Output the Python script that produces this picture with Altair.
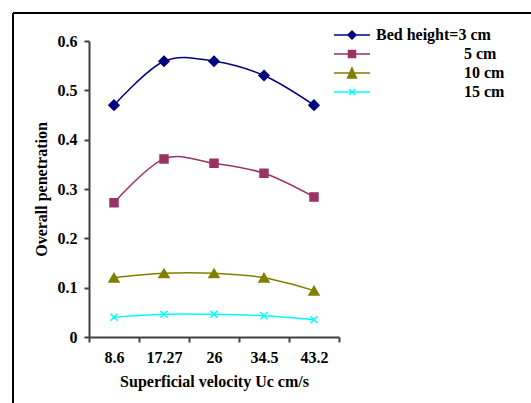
import altair as alt
import pandas as pd

velocity = ["8.6", "17.27", "26", "34.5", "43.2"]
series = ["3 cm", "5 cm", "10 cm", "15 cm"]
bed3 = [0.470, 0.559, 0.559, 0.530, 0.470]
bed5 = [0.272, 0.361, 0.352, 0.332, 0.284]
bed10 = [0.120, 0.129, 0.129, 0.120, 0.094]
bed15 = [0.040, 0.046, 0.046, 0.043, 0.035]
colors = ["#000080", "#993366", "#808000", "#00FFFF"]
y_ticks = [0, 0.1, 0.2, 0.3, 0.4, 0.5, 0.6]

rows = []
for s, vals in zip(series, [bed3, bed5, bed10, bed15]):
    for v, p in zip(velocity, vals):
        rows.append({"velocity": v, "series": s, "pen": p})
df = pd.DataFrame(rows)

FONT = "Liberation Serif"

point_paths = [
    "M-1,0L0,-1L1,0L0,1Z",
    "M-0.8,-0.8H0.8V0.8H-0.8Z",
    "M0,-0.85L1,0.85H-1Z",
    "M-0.7,-0.7L0.7,0.7M-0.7,0.7L0.7,-0.7",
]
legend_paths = [
    "M-3.6,0H3.6M-0.8,0L0,-0.8L0.8,0L0,0.8Z",
    "M-3.6,0H3.6M-0.7,-0.7H0.7V0.7H-0.7Z",
    "M-3.6,0H3.6M0,-1L0.87,1H-0.87Z",
    "M-3.6,0H3.6M-0.6,-0.6L0.6,0.6M-0.6,0.6L0.6,-0.6",
]

pad = "\u200b" + "\u00a0" * 22
label_expr = f"datum.value == '3 cm' ? 'Bed height=3 cm' : '{pad}' + datum.label"

x = alt.X(
    "velocity:N",
    sort=velocity,
    scale=alt.Scale(type="band", paddingInner=0, paddingOuter=0),
    axis=alt.Axis(title="Superficial velocity Uc cm/s", labelAngle=0, tickBand="extent",
                  labelPadding=7, titlePadding=8),
)
y = alt.Y(
    "pen:Q",
    scale=alt.Scale(domain=[0, 0.6], nice=False),
    axis=alt.Axis(values=y_ticks, format="~g", title="Overall penetration", grid=False,
                  labelPadding=7, titlePadding=8),
)

color_scale = alt.Scale(domain=series, range=colors)

lines = alt.Chart(df).mark_line(interpolate="cardinal", strokeWidth=1.5).encode(
    x=x, y=y, color=alt.Color("series:N", scale=color_scale, legend=None)
)

points = alt.Chart(df).mark_point(filled=True, size=100, strokeWidth=1.5, opacity=1).encode(
    x=x,
    y=y,
    shape=alt.Shape("series:N", scale=alt.Scale(domain=series, range=point_paths), legend=None),
    color=alt.Color("series:N", scale=color_scale, legend=None),
    stroke=alt.Stroke("series:N", scale=color_scale, legend=None),
)

leg = alt.Legend(title=None, labelExpr=label_expr)
legend_layer = alt.Chart(df).transform_filter("false").mark_point(
    filled=True, size=100, strokeWidth=1.5, opacity=1
).encode(
    shape=alt.Shape("series:N", scale=alt.Scale(domain=series, range=legend_paths), legend=leg),
    color=alt.Color("series:N", scale=color_scale, legend=leg),
    stroke=alt.Stroke("series:N", scale=color_scale, legend=leg),
)

frame_df = pd.DataFrame({"a": [0]})
frame_top = alt.Chart(frame_df).mark_rule(color="black", strokeWidth=2).encode(
    x=alt.value(-76), x2=alt.value(460), y=alt.value(-28)
)
frame_left = alt.Chart(frame_df).mark_rule(color="black", strokeWidth=2).encode(
    x=alt.value(-76), y=alt.value(-28), y2=alt.value(380)
)

chart = alt.layer(frame_top, frame_left, lines, points, legend_layer).resolve_scale(
    shape="independent", color="independent", stroke="independent"
).properties(
    width=250,
    height=296,
    autosize=alt.AutoSizeParams(type="none"),
    padding={"left": 89, "top": 41, "right": 192, "bottom": 66},
    background="white",
).configure_view(stroke=None).configure_axis(
    labelFont=FONT, labelFontSize=16, labelFontWeight="bold", labelColor="black",
    titleFont=FONT, titleFontSize=16, titleFontWeight="bold", titleColor="black",
    domainColor="#404040", domainWidth=2, tickColor="#404040", tickWidth=2, tickSize=5,
).configure_legend(
    orient="none", legendX=255, legendY=-14, padding=0, labelOffset=16, rowPadding=3,
    labelFont=FONT, labelFontSize=16, labelFontWeight="bold", labelColor="black",
    symbolStrokeWidth=1.5, labelLimit=300,
)

chart.save("out.html", embed_options={"renderer": "svg", "actions": False})
